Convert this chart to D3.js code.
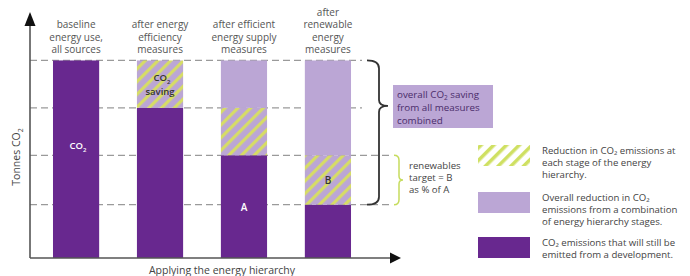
<!DOCTYPE html>
<html><head><meta charset="utf-8">
<script src="https://cdn.jsdelivr.net/npm/d3@7"></script>
<style>body{margin:0;background:#fff}svg{display:block;font-family:"Open Sans",sans-serif}</style>
</head><body><svg id="c" width="690" height="276"></svg>
<script>
const categories = ["baseline", "efficiency", "supply", "renewable"];
const categoryLabels = [
  ["baseline", "energy use,", "all sources"],
  ["after energy", "efficiency", "measures"],
  ["after efficient", "energy supply", "measures"],
  ["after", "renewable", "energy", "measures"]
];
const remaining = [100, 76, 52, 27];   // dark: CO2 still emitted
const stageReduction = [0, 24, 24, 25]; // hatched: reduction at this stage
const overallReduction = [0, 0, 24, 48]; // light: earlier reductions
const legendItems = [
  {key: "hatch", lines: ["Reduction in CO₂ emissions at", "each stage of the energy", "hierarchy."]},
  {key: "light", lines: ["Overall reduction in CO₂", "emissions from a combination", "of energy hierarchy stages."]},
  {key: "dark", lines: ["CO₂ emissions that will still be", "emitted from a development."]}
];

const DARK = "#68288f", LIGHT = "#bba6d5", STRIPE = "#d6dc66";
const svg = d3.select("#c");
const defs = svg.append("defs");
const p1 = defs.append("pattern").attr("id","hatch").attr("patternUnits","userSpaceOnUse")
  .attr("width",9).attr("height",9).attr("patternTransform","rotate(45)");
p1.append("rect").attr("width",9).attr("height",9).attr("fill",LIGHT);
p1.append("rect").attr("x",0).attr("width",3.2).attr("height",9).attr("fill",STRIPE);
const p2 = defs.append("pattern").attr("id","hatchW").attr("patternUnits","userSpaceOnUse")
  .attr("width",9).attr("height",9).attr("patternTransform","rotate(45)");
p2.append("rect").attr("width",9).attr("height",9).attr("fill","#fff");
p2.append("rect").attr("x",0).attr("width",3.5).attr("height",9).attr("fill","#cfe062");

const x = d3.scaleBand().domain(categories).range([32, 372]).paddingInner(0.45).paddingOuter(0.25);
const y = d3.scaleLinear().domain([0, 122]).range([258, 17]);

// dashed reference lines
const levels = remaining;
svg.append("g").selectAll("line").data(levels).join("line")
  .attr("x1", 30).attr("x2", (d,i) => i < 2 ? 362 : 390)
  .attr("y1", d => y(d)).attr("y2", d => y(d))
  .attr("stroke", "#9a9a9a").attr("stroke-width", 1.2).attr("stroke-dasharray", "7,4");

// stacked bars
const segs = [];
categories.forEach((c, i) => {
  segs.push({c, y0: 0, y1: remaining[i], fill: DARK});
  segs.push({c, y0: remaining[i], y1: remaining[i] + stageReduction[i], fill: "url(#hatch)"});
  segs.push({c, y0: remaining[i] + stageReduction[i], y1: remaining[i] + stageReduction[i] + overallReduction[i], fill: LIGHT});
});
svg.append("g").selectAll("rect").data(segs.filter(s => s.y1 > s.y0)).join("rect")
  .attr("x", d => x(d.c)).attr("width", x.bandwidth())
  .attr("y", d => y(d.y1)).attr("height", d => y(d.y0) - y(d.y1))
  .attr("fill", d => d.fill);

// axes
const axisG = svg.append("g");
axisG.append("line").attr("x1",30).attr("x2",30).attr("y1",258).attr("y2",22).attr("stroke","#555").attr("stroke-width",1.6);
axisG.append("line").attr("x1",30).attr("x2",393).attr("y1",258).attr("y2",258).attr("stroke","#555").attr("stroke-width",1.6);
axisG.append("path").attr("d","M30,12 L35.5,26 L24.5,26 Z").attr("fill","#111");
axisG.append("path").attr("d","M401,258 L390,252.5 L390,263.5 Z").attr("fill","#111");

// y label
const yl = svg.append("text").attr("transform","translate(20,157) rotate(-90)")
  .attr("text-anchor","middle").attr("font-size",10.5).attr("fill","#444");
yl.append("tspan").text("Tonnes CO");
yl.append("tspan").attr("font-size",7).attr("dy",3).text("2");
svg.append("text").attr("x",222).attr("y",274).attr("text-anchor","middle")
  .attr("font-size",10.5).attr("fill","#444").text("Applying the energy hierarchy");

// category labels
categories.forEach((c, i) => {
  const lines = categoryLabels[i];
  const t = svg.append("text").attr("text-anchor","middle").attr("font-size",10).attr("fill","#555");
  lines.forEach((l, j) => {
    t.append("tspan").attr("x", x(c) + x.bandwidth()/2)
      .attr("y", 53 - (lines.length - 1 - j) * 12.5).text(l);
  });
});

// in-bar labels
function co2(g, cx, cy, fill, size) {
  const t = g.append("text").attr("x",cx).attr("y",cy).attr("text-anchor","middle")
    .attr("font-size",size).attr("font-weight",600).attr("fill",fill);
  t.append("tspan").text("CO");
  t.append("tspan").attr("font-size",6).attr("dy",2.5).text("2");
  return t;
}
const cxOf = i => x(categories[i]) + x.bandwidth()/2;
co2(svg, cxOf(0)+2, 149, "#fff", 9.5);
co2(svg, cxOf(1)+2, 81, "#333", 9.5);
svg.append("text").attr("x",cxOf(1)).attr("y",95).attr("text-anchor","middle")
  .attr("font-size",9.5).attr("font-weight",600).attr("fill","#333").text("saving");
svg.append("text").attr("x",cxOf(2)).attr("y",y((remaining[2])/2)+4).attr("text-anchor","middle")
  .attr("font-size",10).attr("font-weight",600).attr("fill","#fff").text("A");
svg.append("text").attr("x",cxOf(3)).attr("y",y(remaining[3]+stageReduction[3]/2)+4).attr("text-anchor","middle")
  .attr("font-size",10).attr("font-weight",600).attr("fill","#333").text("B");

// big brace
const bt = y(100), bb = y(remaining[3]), tip = y(77);
svg.append("path").attr("fill","none").attr("stroke","#333").attr("stroke-width",1.8)
  .attr("d",`M367,${bt} Q379,${bt} 379,${bt+8} L379,${tip-6} Q379,${tip} 388,${tip} Q379,${tip} 379,${tip+6} L379,${bb-8} Q379,${bb} 367,${bb}`);
// green brace
const gt = y(remaining[2]), gb = y(remaining[3]), gm = (gt+gb)/2;
svg.append("path").attr("fill","none").attr("stroke","#c6dc5e").attr("stroke-width",1.5)
  .attr("d",`M394,${gt} Q399,${gt} 399,${gt+5} L399,${gm-4} Q399,${gm} 403,${gm} Q399,${gm} 399,${gm+4} L399,${gb-5} Q399,${gb} 394,${gb}`);

// overall saving box
svg.append("rect").attr("x",393).attr("y",85).attr("width",100).attr("height",43).attr("fill",LIGHT);
const ob = svg.append("text").attr("font-size",9.8).attr("fill","#4a2c6a");
const t1 = ob.append("tspan").attr("x",397).attr("y",98);
t1.append("tspan").text("overall CO");
t1.append("tspan").attr("font-size",6.5).attr("dy",2).text("2");
t1.append("tspan").attr("dy",-2).text(" saving");
ob.append("tspan").attr("x",397).attr("y",111).text("from all measures");
ob.append("tspan").attr("x",397).attr("y",123.5).text("combined");

const rt = svg.append("text").attr("font-size",9.6).attr("fill","#444");
["renewables","target = B","as % of A"].forEach((l,j) =>
  rt.append("tspan").attr("x",409).attr("y",169 + j*12).text(l));

// legend
const swY = [145, 192, 237];
const swFill = {hatch: "url(#hatchW)", light: LIGHT, dark: DARK};
legendItems.forEach((it, i) => {
  svg.append("rect").attr("x",478).attr("y",swY[i]).attr("width",52).attr("height",21).attr("fill",swFill[it.key]);
  const t = svg.append("text").attr("font-size",9.6).attr("fill","#444");
  it.lines.forEach((l, j) => t.append("tspan").attr("x",542).attr("y",swY[i] + 9 + j*12).text(l));
});
</script></body></html>
